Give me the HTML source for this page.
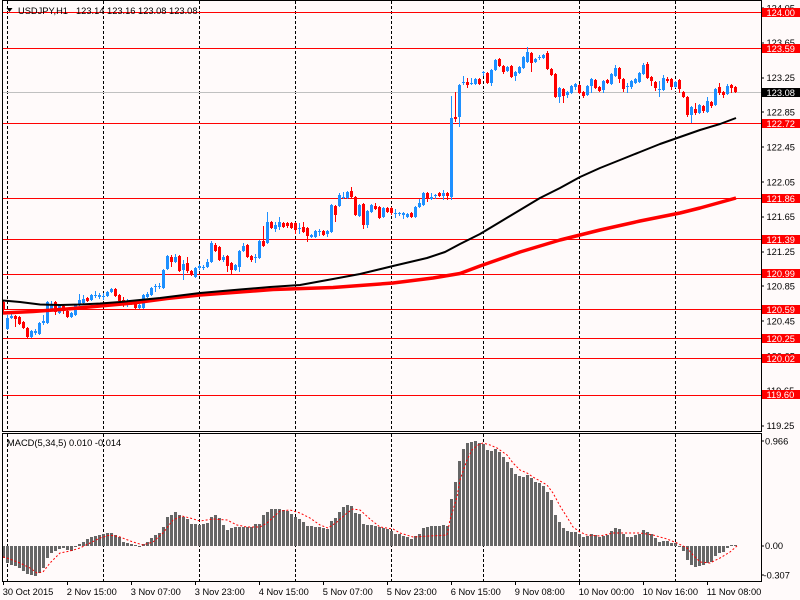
<!DOCTYPE html>
<html><head><meta charset="utf-8"><style>html,body{margin:0;padding:0;background:#fffafa;}svg{display:block;}</style></head>
<body>
<svg width="800" height="600" viewBox="0 0 800 600" xmlns="http://www.w3.org/2000/svg" font-family="'Liberation Sans', sans-serif" font-size="9.3">
<rect width="800" height="600" fill="#fffafa"/>
<!-- grid -->
<g stroke="#000" stroke-width="1" stroke-dasharray="3,2" shape-rendering="crispEdges" fill="none">
<path d="M7.5 1V431M103.5 1V431M199.5 1V431M295.5 1V431M391.5 1V431M483.5 1V431M579.5 1V431M675.5 1V431"/>
<path d="M7.5 434V581M103.5 434V581M199.5 434V581M295.5 434V581M391.5 434V581M483.5 434V581M579.5 434V581M675.5 434V581"/>
</g>
<!-- level lines -->
<g stroke="#ff0000" stroke-width="1" shape-rendering="crispEdges">
<path d="M3 12.5H761M3 48.5H761M3 123.5H761M3 198.5H761M3 239.5H761M3 274.5H761M3 309.5H761M3 338.5H761M3 358.5H761M3 395.5H761"/>
</g>
<path d="M3 92.5H761" stroke="#c0c0c0" stroke-width="1" shape-rendering="crispEdges"/>
<!-- candles -->
<g shape-rendering="crispEdges">
<path stroke="#1e90ff" stroke-width="1" fill="none" d="M7.5 315V330M11.5 312V319M31.5 330V338M35.5 329V335M39.5 322V335M43.5 315V325M47.5 301V324M51.5 301V310M59.5 304V314M71.5 312V318M75.5 304V316M79.5 294V306M83.5 295V304M91.5 294V301M95.5 291V298M99.5 293V299M103.5 293V300M107.5 291V297M111.5 288V293M127.5 299V307M131.5 301V305M139.5 304V309M143.5 294V309M147.5 292V298M151.5 287V296M155.5 284V292M159.5 283V289M163.5 269V289M167.5 255V270M175.5 254V263M183.5 260V280M195.5 267V278M199.5 264V270M203.5 265V270M207.5 259V268M211.5 241V263M223.5 255V262M235.5 264V271M239.5 250V272M243.5 243V252M255.5 254V263M259.5 240V259M267.5 212V244M275.5 222V232M279.5 217V230M299.5 223V234M311.5 234V238M315.5 230V238M319.5 229V236M327.5 230V237M331.5 204V233M339.5 193V207M343.5 192V199M347.5 191V199M359.5 204V217M367.5 210V228M371.5 204V213M383.5 207V218M395.5 209V218M399.5 212V216M403.5 212V219M407.5 213V218M415.5 206V218M419.5 199V208M423.5 192V206M431.5 193V200M435.5 194V199M443.5 190V200M451.5 96V200M459.5 84V127M463.5 76V85M471.5 78V85M475.5 78V85M483.5 71V76M491.5 69V86M495.5 59V71M507.5 66V72M515.5 71V81M519.5 66V74M523.5 56V69M527.5 47V63M535.5 58V63M539.5 55V60M543.5 54V59M559.5 87V103M567.5 91V98M571.5 85V94M575.5 83V90M587.5 85V96M591.5 78V93M603.5 80V93M611.5 73V85M615.5 65V77M627.5 83V93M631.5 80V89M635.5 78V84M639.5 72V83M643.5 63V75M659.5 81V97M663.5 75V91M675.5 81V88M691.5 106V123M699.5 104V114M707.5 97V113M715.5 88V106M727.5 84V95"/>
<path fill="#1e90ff" d="M6 318h3v11h-3zM10 316h3v2h-3zM30 331h3v6h-3zM34 331h3v2h-3zM38 323h3v11h-3zM42 321h3v2h-3zM46 302h3v21h-3zM50 304h3v5h-3zM58 305h3v8h-3zM70 313h3v4h-3zM74 305h3v10h-3zM78 300h3v5h-3zM82 299h3v4h-3zM90 295h3v5h-3zM94 295h3v1h-3zM98 295h3v2h-3zM102 296h3v1h-3zM106 292h3v4h-3zM110 289h3v3h-3zM126 303h3v2h-3zM130 302h3v2h-3zM138 305h3v3h-3zM142 295h3v13h-3zM146 294h3v3h-3zM150 288h3v7h-3zM154 286h3v1h-3zM158 286h3v1h-3zM162 270h3v18h-3zM166 256h3v13h-3zM174 257h3v5h-3zM182 264h3v6h-3zM194 268h3v9h-3zM198 266h3v2h-3zM202 267h3v1h-3zM206 262h3v5h-3zM210 243h3v19h-3zM222 257h3v3h-3zM234 265h3v5h-3zM238 251h3v16h-3zM242 246h3v5h-3zM254 257h3v1h-3zM258 241h3v17h-3zM266 222h3v21h-3zM274 225h3v4h-3zM278 222h3v5h-3zM298 228h3v1h-3zM310 235h3v2h-3zM314 231h3v6h-3zM318 231h3v1h-3zM326 231h3v3h-3zM330 205h3v27h-3zM338 195h3v11h-3zM342 197h3v1h-3zM346 192h3v6h-3zM358 205h3v11h-3zM366 211h3v14h-3zM370 205h3v7h-3zM382 208h3v9h-3zM394 213h3v1h-3zM398 213h3v1h-3zM402 213h3v2h-3zM406 214h3v3h-3zM414 207h3v10h-3zM418 203h3v4h-3zM422 193h3v12h-3zM430 197h3v2h-3zM434 195h3v1h-3zM442 193h3v3h-3zM450 118h3v79h-3zM458 85h3v32h-3zM462 82h3v1h-3zM470 83h3v1h-3zM474 79h3v5h-3zM482 72h3v1h-3zM490 70h3v13h-3zM494 60h3v10h-3zM506 67h3v4h-3zM514 72h3v4h-3zM518 67h3v6h-3zM522 57h3v11h-3zM526 52h3v10h-3zM534 59h3v3h-3zM538 57h3v1h-3zM542 55h3v3h-3zM558 88h3v9h-3zM566 92h3v3h-3zM570 86h3v7h-3zM574 84h3v3h-3zM586 86h3v9h-3zM590 79h3v7h-3zM602 81h3v9h-3zM610 74h3v10h-3zM614 68h3v8h-3zM626 86h3v1h-3zM630 81h3v6h-3zM634 79h3v4h-3zM638 73h3v9h-3zM642 65h3v9h-3zM658 89h3v1h-3zM662 78h3v12h-3zM674 82h3v5h-3zM690 107h3v8h-3zM698 105h3v8h-3zM706 101h3v11h-3zM714 89h3v16h-3zM726 86h3v8h-3z"/>
<path stroke="#ff0000" stroke-width="1" fill="none" d="M3.5 300V312M15.5 315V327M19.5 316V325M23.5 321V329M27.5 327V338M55.5 301V315M63.5 305V314M67.5 310V318M87.5 297V302M115.5 288V297M119.5 294V302M123.5 297V307M135.5 302V309M171.5 255V267M179.5 255V272M187.5 257V273M191.5 270V276M215.5 243V252M219.5 246V261M227.5 255V272M231.5 262V275M247.5 244V258M251.5 255V262M263.5 226V247M271.5 221V229M283.5 222V228M287.5 222V228M291.5 222V229M295.5 222V234M303.5 222V233M307.5 227V242M323.5 230V236M335.5 205V222M351.5 187V198M355.5 196V216M363.5 203V229M375.5 203V210M379.5 206V219M387.5 207V213M391.5 207V215M411.5 212V218M427.5 192V202M439.5 192V197M447.5 192V200M455.5 92V122M467.5 78V88M479.5 78V85M487.5 72V84M499.5 58V67M503.5 65V74M511.5 65V78M531.5 52V72M547.5 51V70M551.5 68V76M555.5 73V98M563.5 88V103M579.5 84V94M583.5 91V98M595.5 79V89M599.5 86V92M607.5 79V84M619.5 67V83M623.5 78V92M647.5 62V79M651.5 76V86M655.5 81V91M667.5 77V83M671.5 78V90M679.5 79V93M683.5 91V98M687.5 96V117M695.5 103V115M703.5 105V113M711.5 101V108M719.5 83V95M723.5 91V98M731.5 84V93M735.5 86V93"/>
<path fill="#ff0000" d="M2 302h3v7h-3zM14 316h3v3h-3zM18 317h3v7h-3zM22 322h3v6h-3zM26 328h3v9h-3zM54 302h3v10h-3zM62 306h3v5h-3zM66 311h3v6h-3zM86 298h3v3h-3zM114 289h3v7h-3zM118 295h3v6h-3zM122 300h3v5h-3zM134 303h3v5h-3zM170 257h3v5h-3zM178 256h3v15h-3zM186 263h3v8h-3zM190 271h3v4h-3zM214 245h3v6h-3zM218 247h3v13h-3zM226 256h3v10h-3zM230 263h3v7h-3zM246 245h3v12h-3zM250 256h3v4h-3zM262 241h3v5h-3zM270 222h3v6h-3zM282 223h3v4h-3zM286 223h3v3h-3zM290 223h3v5h-3zM294 223h3v7h-3zM302 227h3v5h-3zM306 228h3v8h-3zM322 231h3v4h-3zM334 206h3v9h-3zM350 191h3v6h-3zM354 197h3v18h-3zM362 204h3v21h-3zM374 206h3v3h-3zM378 207h3v11h-3zM386 208h3v4h-3zM390 208h3v5h-3zM410 213h3v4h-3zM426 193h3v6h-3zM438 193h3v3h-3zM446 193h3v3h-3zM454 117h3v2h-3zM466 82h3v3h-3zM478 79h3v5h-3zM486 73h3v10h-3zM498 59h3v7h-3zM502 66h3v6h-3zM510 66h3v11h-3zM530 53h3v10h-3zM546 53h3v16h-3zM550 69h3v6h-3zM554 74h3v23h-3zM562 89h3v7h-3zM578 85h3v8h-3zM582 92h3v4h-3zM594 80h3v8h-3zM598 87h3v4h-3zM606 80h3v3h-3zM618 68h3v11h-3zM622 79h3v10h-3zM646 64h3v14h-3zM650 77h3v4h-3zM654 82h3v6h-3zM666 79h3v2h-3zM670 79h3v8h-3zM678 80h3v9h-3zM682 92h3v5h-3zM686 97h3v18h-3zM694 109h3v4h-3zM702 106h3v5h-3zM710 102h3v4h-3zM718 87h3v6h-3zM722 92h3v3h-3zM730 85h3v3h-3zM734 87h3v5h-3z"/>
</g>
<!-- moving averages -->
<polyline fill="none" stroke="#ff0000" stroke-width="3.5" stroke-linejoin="round" points="3,313 33,311.5 67,309 100,306 133,303 167,298.5 200,295 240,292 273,289.5 333,287.5 393,283 433,278 460,273.5 480,266 500,259 520,252 540,246 560,240 580,235 600,230 640,221 680,213 700,208 736,198"/>
<polyline fill="none" stroke="#000" stroke-width="2" stroke-linejoin="round" points="3,300.5 20,302 40,304.5 60,305 80,304.5 100,303.5 120,302 140,300 160,298 180,295.5 200,293 240,289.5 270,287 300,285 333,279 360,274 393,266 427,258 445,252 460,244 480,234 500,222 520,210 540,198 560,188 580,177 600,168 620,160 640,152 660,144 680,137 700,130 720,124 736,118"/>
<!-- MACD histogram -->
<path fill="#666666" shape-rendering="crispEdges" d="M2 546h3V558h-3zM6 546h3V563h-3zM10 546h3V565h-3zM14 546h3V566h-3zM18 546h3V568h-3zM22 546h3V571h-3zM26 546h3V574h-3zM30 546h3V575h-3zM34 546h3V576h-3zM38 546h3V573h-3zM42 546h3V568h-3zM46 546h3V558h-3zM50 546h3V553h-3zM54 546h3V551h-3zM58 546h3V549h-3zM62 546h3V548h-3zM66 546h3V550h-3zM70 546h3V551h-3zM74 546h3V547h-3zM78 546h3V544h-3zM82 546h3V542h-3zM86 546h3V539h-3zM90 546h3V537h-3zM94 546h3V536h-3zM98 546h3V535h-3zM102 546h3V534h-3zM106 546h3V533h-3zM110 546h3V533h-3zM114 546h3V535h-3zM118 546h3V537h-3zM122 546h3V542h-3zM126 546h3V543h-3zM130 546h3V544h-3zM134 546h3V545h-3zM138 546h3V547h-3zM142 546h3V544h-3zM146 546h3V542h-3zM150 546h3V538h-3zM154 546h3V535h-3zM158 546h3V533h-3zM162 546h3V527h-3zM166 546h3V517h-3zM170 546h3V515h-3zM174 546h3V512h-3zM178 546h3V515h-3zM182 546h3V517h-3zM186 546h3V519h-3zM190 546h3V524h-3zM194 546h3V524h-3zM198 546h3V525h-3zM202 546h3V524h-3zM206 546h3V523h-3zM210 546h3V517h-3zM214 546h3V515h-3zM218 546h3V518h-3zM222 546h3V525h-3zM226 546h3V530h-3zM230 546h3V528h-3zM234 546h3V527h-3zM238 546h3V527h-3zM242 546h3V527h-3zM246 546h3V527h-3zM250 546h3V527h-3zM254 546h3V524h-3zM258 546h3V524h-3zM262 546h3V515h-3zM266 546h3V512h-3zM270 546h3V509h-3zM274 546h3V509h-3zM278 546h3V509h-3zM282 546h3V510h-3zM286 546h3V511h-3zM290 546h3V514h-3zM294 546h3V517h-3zM298 546h3V519h-3zM302 546h3V522h-3zM306 546h3V526h-3zM310 546h3V526h-3zM314 546h3V527h-3zM318 546h3V527h-3zM322 546h3V528h-3zM326 546h3V529h-3zM330 546h3V521h-3zM334 546h3V518h-3zM338 546h3V512h-3zM342 546h3V507h-3zM346 546h3V505h-3zM350 546h3V506h-3zM354 546h3V513h-3zM358 546h3V514h-3zM362 546h3V524h-3zM366 546h3V525h-3zM370 546h3V525h-3zM374 546h3V526h-3zM378 546h3V527h-3zM382 546h3V528h-3zM386 546h3V529h-3zM390 546h3V531h-3zM394 546h3V534h-3zM398 546h3V534h-3zM402 546h3V536h-3zM406 546h3V537h-3zM410 546h3V539h-3zM414 546h3V536h-3zM418 546h3V534h-3zM422 546h3V528h-3zM426 546h3V527h-3zM430 546h3V526h-3zM434 546h3V526h-3zM438 546h3V526h-3zM442 546h3V525h-3zM446 546h3V526h-3zM450 546h3V499h-3zM454 546h3V482h-3zM458 546h3V461h-3zM462 546h3V449h-3zM466 546h3V443h-3zM470 546h3V442h-3zM474 546h3V441h-3zM478 546h3V443h-3zM482 546h3V444h-3zM486 546h3V450h-3zM490 546h3V451h-3zM494 546h3V449h-3zM498 546h3V452h-3zM502 546h3V457h-3zM506 546h3V462h-3zM510 546h3V468h-3zM514 546h3V474h-3zM518 546h3V476h-3zM522 546h3V477h-3zM526 546h3V475h-3zM530 546h3V478h-3zM534 546h3V482h-3zM538 546h3V483h-3zM542 546h3V486h-3zM546 546h3V492h-3zM550 546h3V500h-3zM554 546h3V515h-3zM558 546h3V522h-3zM562 546h3V528h-3zM566 546h3V531h-3zM570 546h3V532h-3zM574 546h3V532h-3zM578 546h3V534h-3zM582 546h3V537h-3zM586 546h3V536h-3zM590 546h3V534h-3zM594 546h3V535h-3zM598 546h3V537h-3zM602 546h3V536h-3zM606 546h3V535h-3zM610 546h3V531h-3zM614 546h3V528h-3zM618 546h3V529h-3zM622 546h3V534h-3zM626 546h3V537h-3zM630 546h3V537h-3zM634 546h3V535h-3zM638 546h3V534h-3zM642 546h3V530h-3zM646 546h3V532h-3zM650 546h3V534h-3zM654 546h3V538h-3zM658 546h3V542h-3zM662 546h3V541h-3zM666 546h3V541h-3zM670 546h3V543h-3zM674 546h3V543h-3zM678 546h3V547h-3zM682 546h3V551h-3zM686 546h3V560h-3zM690 546h3V565h-3zM694 546h3V567h-3zM698 546h3V566h-3zM702 546h3V565h-3zM706 546h3V563h-3zM710 546h3V562h-3zM714 546h3V556h-3zM718 546h3V553h-3zM722 546h3V552h-3zM726 546h3V548h-3zM730 546h3V545h-3zM734 546h3V545h-3z"/>
<polyline fill="none" stroke="#ff0000" stroke-width="1" stroke-dasharray="2,2" points="3,557 7,558 20,563 30,568 37,573 43,572 50,563 60,553 70,551 80,548 90,543 100,538 110,535 120,537 133,542 143,545 153,542 163,533 173,520 182,516 190,518 200,521 213,519 227,520 237,525 247,527 260,527 267,523 280,511 290,510 300,513 310,518 320,525 328,528 337,522 347,513 353,509 360,510 370,519 380,527 393,529 400,533 413,537 430,536 447,535 450,520 457,497 460,480 467,460 472,450 478,445 483,443 490,445 497,448 507,455 513,463 520,470 527,473 533,477 540,481 547,485 553,493 560,506 567,517 573,527 580,532 587,535 600,536 613,533 627,533 640,533 653,535 667,539 677,543 687,548 693,555 700,562 710,563 720,558 730,552 737,546"/>
<!-- borders -->
<g stroke="#000" stroke-width="1" fill="none" shape-rendering="crispEdges">
<path d="M2.5 0.5H761.5V431.5H2.5Z"/>
<path d="M2.5 433.5H761.5V581.5H2.5Z"/>
<path d="M762 8H764M762 43H764M762 78H764M762 112H764M762 147H764M762 182H764M762 217H764M762 252H764M762 286H764M762 321H764M762 356H764M762 391H764M762 426H764M762 441H764M762 546H764M762 575H764"/>
<path d="M3.5 582V585M67.5 582V585M131.5 582V585M195.5 582V585M259.5 582V585M323.5 582V585M387.5 582V585M451.5 582V585M515.5 582V585M579.5 582V585M643.5 582V585M707.5 582V585"/>
</g>
<!-- right axis tick labels -->
<g fill="#000">
<text x="766.5" y="11.3">124.05</text>
<text x="766.5" y="46">123.65</text>
<text x="766.5" y="80.9">123.25</text>
<text x="766.5" y="115.7">122.85</text>
<text x="766.5" y="150.5">122.45</text>
<text x="766.5" y="185.3">122.05</text>
<text x="766.5" y="220">121.65</text>
<text x="766.5" y="254.9">121.25</text>
<text x="766.5" y="289.7">120.85</text>
<text x="766.5" y="324.5">120.45</text>
<text x="766.5" y="359.3">120.05</text>
<text x="766.5" y="394">119.65</text>
<text x="766.5" y="428.9">119.25</text>
<text x="765" y="444.3">0.966</text>
<text x="765" y="549">0.00</text>
<text x="763.5" y="578.3">-0.307</text>
</g>
<!-- price boxes -->
<g shape-rendering="crispEdges">
<rect x="762" y="8" width="38" height="9" fill="#ff0000"/>
<rect x="762" y="44" width="38" height="9" fill="#ff0000"/>
<rect x="762" y="88" width="38" height="9" fill="#000"/>
<rect x="762" y="119" width="38" height="9" fill="#ff0000"/>
<rect x="762" y="194" width="38" height="9" fill="#ff0000"/>
<rect x="762" y="235" width="38" height="9" fill="#ff0000"/>
<rect x="762" y="269" width="38" height="9" fill="#ff0000"/>
<rect x="762" y="305" width="38" height="9" fill="#ff0000"/>
<rect x="762" y="334" width="38" height="9" fill="#ff0000"/>
<rect x="762" y="354" width="38" height="9" fill="#ff0000"/>
<rect x="762" y="390" width="38" height="9" fill="#ff0000"/>
</g>
<g fill="#fff">
<text x="766.5" y="16">124.00</text>
<text x="766.5" y="52">123.59</text>
<text x="766.5" y="96">123.08</text>
<text x="766.5" y="127">122.72</text>
<text x="766.5" y="202">121.86</text>
<text x="766.5" y="243">121.39</text>
<text x="766.5" y="277">120.99</text>
<text x="766.5" y="313">120.59</text>
<text x="766.5" y="342">120.25</text>
<text x="766.5" y="362">120.02</text>
<text x="766.5" y="398">119.60</text>
</g>
<!-- bottom time labels -->
<g fill="#000">
<text x="2.7" y="594.8">30 Oct 2015</text>
<text x="66.7" y="594.8">2 Nov 15:00</text>
<text x="130.7" y="594.8">3 Nov 07:00</text>
<text x="194.7" y="594.8">3 Nov 23:00</text>
<text x="258.7" y="594.8">4 Nov 15:00</text>
<text x="322.7" y="594.8">5 Nov 07:00</text>
<text x="386.7" y="594.8">5 Nov 23:00</text>
<text x="450.7" y="594.8">6 Nov 15:00</text>
<text x="514.7" y="594.8">9 Nov 08:00</text>
<text x="578.7" y="594.8">10 Nov 00:00</text>
<text x="642.7" y="594.8">10 Nov 16:00</text>
<text x="706.7" y="594.8">11 Nov 08:00</text>
</g>
<!-- titles -->
<polygon points="6.5,8 12.5,8 9.5,12" fill="#000"/>
<text x="18" y="14" fill="#000">USDJPY,H1</text>
<text x="76" y="14" fill="#000">123.14 123.16 123.08 123.08</text>
<text x="7" y="446" fill="#000">MACD(5,34,5) 0.010 -0.014</text>
</svg>
</body></html>
